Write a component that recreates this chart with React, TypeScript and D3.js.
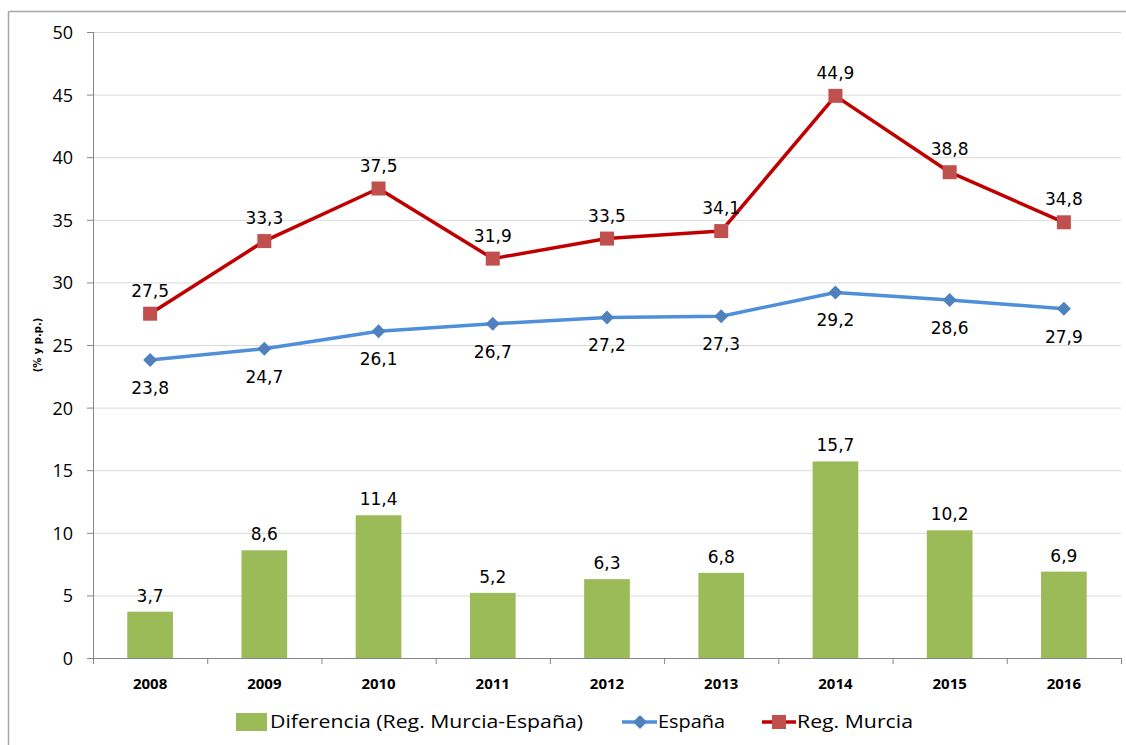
import React from "react";
import * as d3 from "d3";

const years = ["2008", "2009", "2010", "2011", "2012", "2013", "2014", "2015", "2016"];
const espana = [23.8, 24.7, 26.1, 26.7, 27.2, 27.3, 29.2, 28.6, 27.9];
const murcia = [27.5, 33.3, 37.5, 31.9, 33.5, 34.1, 44.9, 38.8, 34.8];
const diferencia = [3.7, 8.6, 11.4, 5.2, 6.3, 6.8, 15.7, 10.2, 6.9];
const yTicks = [0, 5, 10, 15, 20, 25, 30, 35, 40, 45, 50];

const W = 1126;
const H = 745;
const left = 93;
const right = 1121;
const top = 32;
const bottom = 658;

const fmt = (v: number) => v.toFixed(1).replace(".", ",");
const tickFont = "'Liberation Sans Narrow', 'Open Sans', sans-serif";
const labelFont = "'DejaVu Sans', Verdana, sans-serif";

export default function App() {
  const x = d3.scaleBand<string>().domain(years).range([left, right]).paddingInner(0).paddingOuter(0);
  const y = d3.scaleLinear().domain([0, 50]).range([bottom, top]);
  const cx = (yr: string) => (x(yr) as number) + x.bandwidth() / 2;
  const barW = x.bandwidth() * 0.4;
  const line = d3
    .line<number>()
    .x((_, i) => cx(years[i]))
    .y((d) => y(d));

  return (
    <svg width={W} height={H} style={{ position: "absolute", left: 0, top: 0, background: "#fff" }}>
      {/* frame */}
      <line x1={8.5} y1={11.5} x2={W} y2={11.5} stroke="#a6a6a6" strokeWidth={1.5} />
      <line x1={8.5} y1={11.5} x2={8.5} y2={H} stroke="#a6a6a6" strokeWidth={1.5} />

      {/* gridlines */}
      {yTicks.map((t) =>
        t > 0 ? (
          <line key={"g" + t} x1={left} x2={right} y1={y(t) + 0.5} y2={y(t) + 0.5} stroke="#d9d9d9" strokeWidth={1} />
        ) : null
      )}

      {/* y axis */}
      <line x1={left + 0.5} x2={left + 0.5} y1={top} y2={bottom} stroke="#868686" strokeWidth={1} />
      {yTicks.map((t) => (
        <g key={"yt" + t}>
          <line x1={left - 6} x2={left} y1={y(t) + 0.5} y2={y(t) + 0.5} stroke="#868686" />
          <text
            x={left - 20}
            y={y(t)}
            textAnchor="end"
            dominantBaseline="central"
            fontFamily={tickFont}
            fontSize={18}
            fill="#000"
          >
            {t}
          </text>
        </g>
      ))}
      <text
        transform={`translate(41,345) rotate(-90)`}
        textAnchor="middle"
        fontFamily={labelFont}
        fontWeight="bold"
        fontSize={10}
        fill="#000"
      >
        (% y p.p.)
      </text>

      {/* bars */}
      {diferencia.map((v, i) => (
        <g key={"b" + i}>
          <rect x={cx(years[i]) - barW / 2} y={y(v)} width={barW} height={y(0) - y(v)} fill="#9BBB59" />
          <text x={cx(years[i])} y={y(v) - 10} textAnchor="middle" fontFamily={labelFont} fontSize={17} fill="#000">
            {fmt(v)}
          </text>
        </g>
      ))}

      {/* x axis */}
      <line x1={left} x2={right} y1={bottom + 0.5} y2={bottom + 0.5} stroke="#868686" />
      {years.map((yr, i) => (
        <line
          key={"xt" + i}
          x1={(x(yr) as number) + 0.5}
          x2={(x(yr) as number) + 0.5}
          y1={bottom}
          y2={bottom + 6}
          stroke="#868686"
        />
      ))}
      <line x1={right + 0.5} x2={right + 0.5} y1={bottom} y2={bottom + 6} stroke="#868686" />
      {years.map((yr) => (
        <text
          key={"xl" + yr}
          x={cx(yr)}
          y={bottom + 31}
          textAnchor="middle"
          fontFamily={tickFont}
          fontWeight="bold"
          fontSize={15}
          fill="#000"
        >
          {yr}
        </text>
      ))}

      {/* España */}
      <path d={line(espana) as string} fill="none" stroke="#4F8FD9" strokeWidth={3.5} strokeLinejoin="round" />
      {espana.map((v, i) => (
        <g key={"e" + i}>
          <path
            d={`M${cx(years[i])},${y(v) - 7}L${cx(years[i]) + 7},${y(v)}L${cx(years[i])},${y(v) + 7}L${cx(years[i]) - 7},${y(v)}Z`}
            fill="#4F81BD"
          />
          <text x={cx(years[i])} y={y(v) + 34} textAnchor="middle" fontFamily={labelFont} fontSize={17} fill="#000">
            {fmt(v)}
          </text>
        </g>
      ))}

      {/* Murcia */}
      <path d={line(murcia) as string} fill="none" stroke="#C00000" strokeWidth={3.5} strokeLinejoin="round" />
      {murcia.map((v, i) => (
        <g key={"m" + i}>
          <rect x={cx(years[i]) - 7} y={y(v) - 7} width={14} height={14} fill="#C0504D" />
          <text x={cx(years[i])} y={y(v) - 17} textAnchor="middle" fontFamily={labelFont} fontSize={17} fill="#000">
            {fmt(v)}
          </text>
        </g>
      ))}

      {/* legend */}
      <rect x={236} y={713} width={31} height={18} fill="#9BBB59" />
      <text x={270} y={728} fontFamily={tickFont} fontSize={19} fill="#000" textLength={313} lengthAdjust="spacingAndGlyphs">
        Diferencia (Reg. Murcia-España)
      </text>
      <line x1={622} x2={657} y1={722} y2={722} stroke="#4F8FD9" strokeWidth={3.5} />
      <path d="M640,715L647,722L640,729L633,722Z" fill="#4F81BD" />
      <text x={658} y={728} fontFamily={tickFont} fontSize={19} fill="#000" textLength={67} lengthAdjust="spacingAndGlyphs">
        España
      </text>
      <line x1={762} x2={796} y1={722} y2={722} stroke="#C00000" strokeWidth={3.5} />
      <rect x={772} y={715} width={14} height={14} fill="#C0504D" />
      <text x={797} y={728} fontFamily={tickFont} fontSize={19} fill="#000" textLength={116} lengthAdjust="spacingAndGlyphs">
        Reg. Murcia
      </text>
    </svg>
  );
}
